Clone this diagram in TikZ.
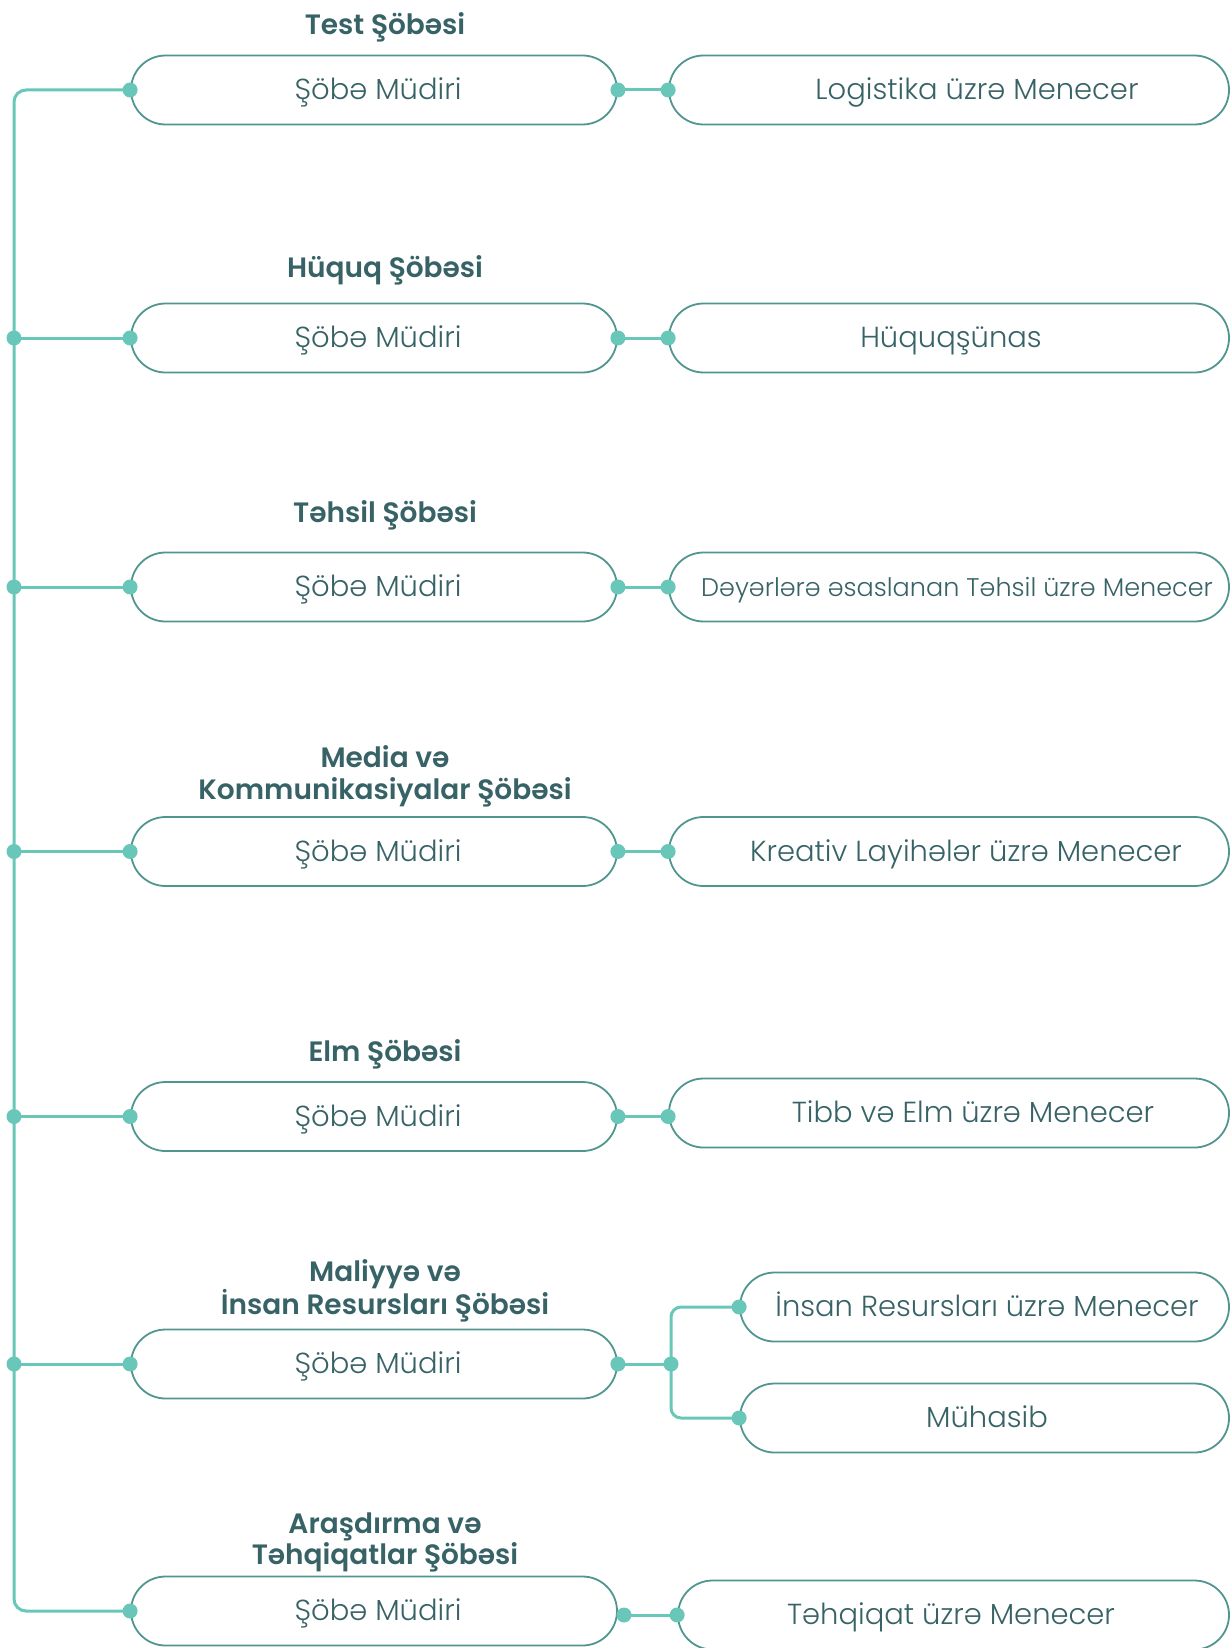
\documentclass[tikz,border=0pt]{standalone}
\usepackage{fontspec}
\setmainfont{Poppins}[UprightFont={* Light}, BoldFont={* SemiBold}]
\usetikzlibrary{calc}
\definecolor{txtc}{HTML}{376266}
\definecolor{boxc}{HTML}{50968F}
\definecolor{linec}{HTML}{68C7B8}
\tikzset{
  lbox/.style={draw=boxc, line width=1.8pt, rounded corners=34.5pt, minimum width=486pt, minimum height=69pt, inner sep=0pt},
  rbox/.style={draw=boxc, line width=1.8pt, rounded corners=34.5pt, minimum height=69pt, inner sep=0pt},
  txt/.style={text=txtc, font=\fontsize{29}{32}\selectfont, inner sep=0pt, anchor=base},
  stxt/.style={text=txtc, font=\fontsize{25.5}{28}\selectfont, inner sep=0pt, anchor=base},
  ttl/.style={text=txtc, font=\fontsize{28}{32}\selectfont\bfseries, inner sep=0pt, anchor=base},
  conn/.style={draw=linec, line width=3pt},
  dotc/.style={fill=linec},
}
\begin{document}
\begin{tikzpicture}[x=1pt,y=-1pt]
\useasboundingbox (0,0) rectangle (1230,1648);
% ---------- left boxes
\node[lbox] (b1) at (374,90) {};
\node[lbox] (b2) at (374,338) {};
\node[lbox] (b3) at (374,587) {};
\node[lbox] (b4) at (374,851.5) {};
\node[lbox] (b5) at (374,1116.5) {};
\node[lbox] (b6) at (374,1364) {};
\node[lbox] (b7) at (374,1611) {};
% ---------- right boxes
\node[rbox, minimum width=560pt] (r1) at (949,90) {};
\node[rbox, minimum width=560pt] (r2) at (949,338) {};
\node[rbox, minimum width=560pt] (r3) at (949,587) {};
\node[rbox, minimum width=560pt] (r4) at (949,851.5) {};
\node[rbox, minimum width=560pt] (r5) at (949,1113) {};
\node[rbox, minimum width=489pt] (r6a) at (984.5,1307) {};
\node[rbox, minimum width=489pt] (r6b) at (984.5,1418) {};
\node[rbox, minimum width=551pt] (r7) at (953.5,1615) {};
% ---------- titles
\node[ttl] (h1) at (385,35) {Test Şöbəsi};
\node[ttl] (h2) at (385,277) {Hüquq Şöbəsi};
\node[ttl] (h3) at (385,522) {Təhsil Şöbəsi};
\node[ttl] (h4a) at (385,767) {Media və};
\node[ttl] (h4b) at (385,799) {Kommunikasiyalar Şöbəsi};
\node[ttl] (h5) at (385,1061) {Elm Şöbəsi};
\node[ttl] (h6a) at (385,1281) {Maliyyə və};
\node[ttl] (h6b) at (385,1314) {İnsan Resursları Şöbəsi};
\node[ttl] (h7a) at (385,1533) {Araşdırma və};
\node[ttl] (h7b) at (385,1564) {Təhqiqatlar Şöbəsi};
% ---------- box texts
\node[txt] (t1) at (378,99.5) {Şöbə Müdiri};
\node[txt] (t2) at (378,347.5) {Şöbə Müdiri};
\node[txt] (t3) at (378,596.5) {Şöbə Müdiri};
\node[txt] (t4) at (378,861) {Şöbə Müdiri};
\node[txt] (t5) at (378,1126) {Şöbə Müdiri};
\node[txt] (t6) at (378,1373.5) {Şöbə Müdiri};
\node[txt] (t7) at (378,1620.5) {Şöbə Müdiri};
\node[txt] (u1) at (977,99.5) {Logistika üzrə Menecer};
\node[txt] (u2) at (951,347.5) {Hüquqşünas};
\node[stxt] (u3) at (957,596) {Dəyərlərə əsaslanan Təhsil üzrə Menecer};
\node[txt] (u4) at (966,861) {Kreativ Layihələr üzrə Menecer};
\node[txt] (u5) at (973,1122.5) {Tibb və Elm üzrə Menecer};
\node[txt] (u6a) at (987,1316.5) {İnsan Resursları üzrə Menecer};
\node[txt] (u6b) at (987,1427.5) {Mühasib};
\node[txt] (u7) at (951,1624.5) {Təhqiqat üzrə Menecer};
% ---------- trunk
\coordinate (tb) at (14,1611);
\draw[conn, rounded corners=12pt] (b1.west) -| (tb) -- (b7.west);
\foreach \i in {2,...,6} {
  \coordinate (j\i) at (b\i.west -| tb);
  \draw[conn] (j\i) -- (b\i.west);
  \fill[dotc] (j\i) circle (7.5);
}
% ---------- connectors to right boxes
\foreach \i in {1,...,5} {
  \coordinate (e\i) at (b\i.east -| r\i.west);
  \draw[conn] (b\i.east) -- (e\i);
  \fill[dotc] (b\i.east) circle (7.5) (e\i) circle (7.5);
}
\coordinate (k6) at (671,1364);
\draw[conn] (b6.east) -- (k6);
\draw[conn, rounded corners=10pt] (r6a.west) -| (k6) |- (r6b.west);
\fill[dotc] (b6.east) circle (7.5) (k6) circle (7.5) (r6a.west) circle (7.5) (r6b.west) circle (7.5);
\coordinate (c7) at (624,1615);
\draw[conn] (c7) -- (r7.west);
\fill[dotc] (c7) circle (7.5) (r7.west) circle (7.5);
% ---------- left dots
\foreach \i in {1,...,7} { \fill[dotc] (b\i.west) circle (7.5); }
\end{tikzpicture}
\end{document}
